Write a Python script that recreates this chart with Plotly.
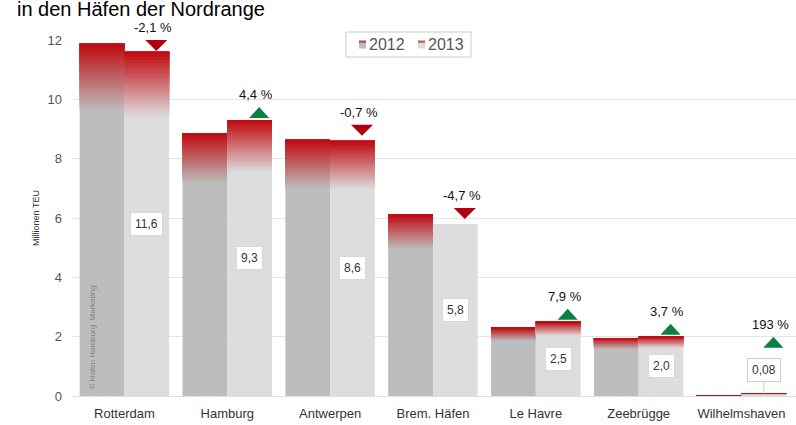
import plotly.graph_objects as go

# ---- data ----
categories = ["Rotterdam", "Hamburg", "Antwerpen", "Brem. Häfen", "Le Havre", "Zeebrügge", "Wilhelmshaven"]
teu_2012 = [11.87, 8.86, 8.64, 6.12, 2.30, 1.95, 0.03]
teu_2013 = [11.6, 9.3, 8.6, 5.8, 2.5, 2.0, 0.08]
value_labels_2013 = ["11,6", "9,3", "8,6", "5,8", "2,5", "2,0", "0,08"]
change_pct = [-2.1, 4.4, -0.7, -4.7, 7.9, 3.7, 193]
change_labels = ["-2,1 %", "4,4 %", "-0,7 %", "-4,7 %", "7,9 %", "3,7 %", "193 %"]
series_names = ["2012", "2013"]
y_ticks = [0, 2, 4, 6, 8, 10, 12]

# ---- style ----
FONT = "Arial, Liberation Sans, sans-serif"
RED = (192, 8, 14)
GRAY_2012 = (189, 189, 189)
GRAY_2013 = (221, 221, 221)
GRAD_FRAC = 0.19
N_SEG = 24
grad_2012 = [True] * 7
grad_2013 = [True, True, True, False, True, True, True]

W, H = 796, 425
ML, MR, MT, MB = 73, 0, 40, 29
PW, PH = W - ML - MR, H - MT - MB
Y_MAX = 12

x_idx = list(range(len(categories)))


def mix(c1, c2, t):
    return "rgb(%d,%d,%d)" % tuple(round(a + (b - a) * t) for a, b in zip(c1, c2))


fig = go.Figure()


def add_series(values, grads, gray, group):
    fig.add_trace(go.Bar(
        x=x_idx, y=values, base=[0] * len(values), offsetgroup=group,
        marker=dict(color="rgb(%d,%d,%d)" % gray, line=dict(width=0)),
        showlegend=False, hoverinfo="skip"))
    for k in range(N_SEG):
        t = (k + 0.5) / N_SEG
        seg_b = [v * (1 - GRAD_FRAC) + v * GRAD_FRAC * k / N_SEG if g else v
                 for v, g in zip(values, grads)]
        seg_h = [v - b for v, b in zip(values, seg_b)]
        fig.add_trace(go.Bar(
            x=x_idx, y=seg_h, base=seg_b, offsetgroup=group, showlegend=False,
            marker=dict(color=mix(gray, RED, t), line=dict(width=0)),
            hoverinfo="skip"))


add_series(teu_2012, grad_2012, GRAY_2012, "a")
add_series(teu_2013, grad_2013, GRAY_2013, "b")

BAR_OFF = 0.2175
TRI_OFF = 0.31
annotations = []
shapes = []
for i, (v, lab, pct, plab) in enumerate(zip(teu_2013, value_labels_2013, change_pct, change_labels)):
    small = v < 1
    if small:
        annotations.append(dict(x=i + BAR_OFF, y=v, text=lab, showarrow=True, ax=0, ay=-24,
                                arrowhead=0, arrowcolor="#cccccc", arrowwidth=1,
                                bgcolor="white", bordercolor="#cccccc", borderwidth=1, borderpad=4,
                                font=dict(size=12, color="#333333", family=FONT)))
    else:
        annotations.append(dict(x=i + BAR_OFF, y=v / 2, text=lab, showarrow=False,
                                bgcolor="white", bordercolor="#d8d8d8", borderwidth=1, borderpad=4,
                                font=dict(size=12, color="#333333", family=FONT)))
    up = pct >= 0
    tri_h = 11
    room = PH * (1 - v / Y_MAX) - tri_h  # pixels between bar top and plot top minus triangle
    lift = max(0.0, min(2 if up else 5, room)) + (44 if small else 0)
    if up:
        path = "M -10,%g L 10,%g L 0,%g Z" % (lift, lift, lift + tri_h)
        col = "#0a8043"
    else:
        path = "M -11,%g L 11,%g L 0,%g Z" % (lift + tri_h, lift + tri_h, lift)
        col = "#b0000e"
    shapes.append(dict(type="path", xref="x", yref="y", xsizemode="pixel", ysizemode="pixel",
                       xanchor=i + TRI_OFF, yanchor=v, path=path,
                       fillcolor=col, line=dict(width=0), layer="above"))
    annotations.append(dict(x=i + TRI_OFF - 0.03, y=v, text=plab, showarrow=False,
                            yanchor="bottom", yshift=lift + tri_h + 3,
                            font=dict(size=13, color="#111111", family=FONT)))

annotations.append(dict(x=-0.32, y=0, text="© Hafen Hamburg  Marketing", textangle=-90,
                        showarrow=False, yanchor="bottom", yshift=4,
                        font=dict(size=8, color="#808080", family=FONT)))

# ---- custom legend (box + swatches with red top + labels) ----
lx = (408.5 - ML) / PW
ly = (H - MB - 44.5) / PH
shapes.append(dict(type="rect", xref="paper", yref="paper", xsizemode="pixel", ysizemode="pixel",
                   xanchor=lx, yanchor=ly, x0=-62.5, x1=62.5, y0=-12.5, y1=12.5,
                   fillcolor="white", line=dict(color="#cccccc", width=1), layer="above"))
for j, (nm, gray) in enumerate(zip(series_names, [GRAY_2012, GRAY_2013])):
    sx = -49.5 + j * 59
    shapes.append(dict(type="rect", xref="paper", yref="paper", xsizemode="pixel", ysizemode="pixel",
                       xanchor=lx, yanchor=ly, x0=sx, x1=sx + 7, y0=-4, y1=4,
                       fillcolor="rgb(%d,%d,%d)" % gray, line=dict(width=0), layer="above"))
    shapes.append(dict(type="rect", xref="paper", yref="paper", xsizemode="pixel", ysizemode="pixel",
                       xanchor=lx, yanchor=ly, x0=sx, x1=sx + 7, y0=1.5, y1=4,
                       fillcolor=mix(gray, RED, 0.55), line=dict(width=0), layer="above"))
    annotations.append(dict(xref="paper", yref="paper", x=lx, y=ly, xshift=sx + 8, text=nm,
                            xanchor="left", yanchor="middle", showarrow=False,
                            font=dict(size=16, color="#555555", family=FONT)))

fig.update_layout(
    width=W, height=H,
    margin=dict(l=ML, r=MR, t=MT, b=MB, autoexpand=False),
    paper_bgcolor="white", plot_bgcolor="white",
    barmode="group", bargap=0.13, bargroupgap=0,
    font=dict(family=FONT),
    showlegend=False,
    title=dict(text="in den Häfen der Nordrange", x=17 / W, xanchor="left",
               y=1 - 9 / H, yanchor="middle",
               font=dict(size=20, color="#000000", family=FONT)),
    xaxis=dict(range=[-0.5, 6.53], tickvals=x_idx, ticktext=categories,
               showgrid=False, zeroline=False, showline=False, ticks="",
               ticklabelstandoff=8, automargin=False,
               tickfont=dict(size=13, color="#333333", family=FONT)),
    yaxis=dict(range=[0, Y_MAX], tickvals=y_ticks, showgrid=True, gridcolor="#e4e4e4",
               zeroline=True, zerolinecolor="#dddddd", zerolinewidth=1,
               ticks="", ticklabelstandoff=10, automargin=False,
               tickfont=dict(size=13, color="#555555", family=FONT),
               title=dict(text="Millionen TEU", font=dict(size=9, color="#333333", family=FONT),
                          standoff=6)),
    annotations=annotations, shapes=shapes,
)
fig.update_traces(cliponaxis=False)

fig.write_html("out.html", config={"displayModeBar": False},
               post_script="document.body.style.margin='0';")
